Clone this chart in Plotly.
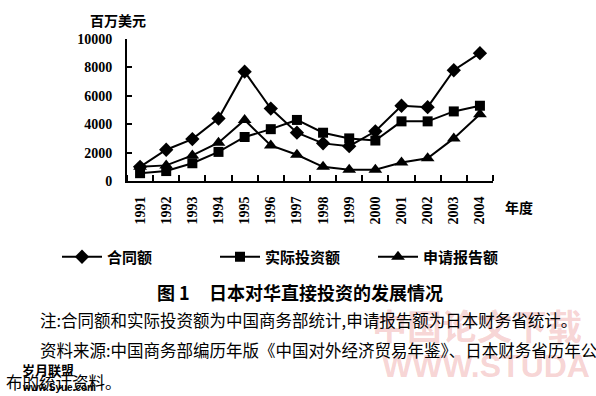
import plotly.graph_objects as go

years = [1991, 1992, 1993, 1994, 1995, 1996, 1997, 1998, 1999, 2000, 2001, 2002, 2003, 2004]
contract = [1000, 2200, 2950, 4400, 7700, 5100, 3400, 2650, 2450, 3500, 5300, 5200, 7800, 9000]
actual = [550, 700, 1250, 2050, 3100, 3650, 4300, 3400, 3000, 2850, 4200, 4200, 4900, 5300]
reported = [1000, 1100, 1800, 2700, 4300, 2500, 1850, 1000, 800, 800, 1300, 1600, 3000, 4700]
series_names = ["合同额", "实际投资额", "申请报告额"]
y_ticks = [0, 2000, 4000, 6000, 8000, 10000]
y_tick_labels = ["0", "2000", "4000", "6000", "8000", "10000"]

W, H = 596, 396
L, R, T, B = 127, 493, 39, 181

def px(x):
    return (x - L) / (R - L)

def py(y):
    return (B - y) / (B - T)

CJK = "Noto Sans CJK SC"
SERIF = "Liberation Serif"
WM = "rgba(230,110,110,0.30)"

fig = go.Figure()
for vals, name, sym, sz in [(contract, series_names[0], "diamond", 11),
                            (actual, series_names[1], "square", 10),
                            (reported, series_names[2], "triangle-up", 12)]:
    fig.add_trace(go.Scatter(x=years, y=vals, name=name, mode="lines+markers",
                             line=dict(color="black", width=2),
                             marker=dict(symbol=sym, size=sz, color="black")))

annotations = [
    # watermarks
    dict(text="中国论文下载", x=px(370), y=py(324), xanchor="left", yanchor="middle",
         font=dict(family=CJK, size=35, color=WM, weight="bold")),
    dict(text="WWW.STUDA", x=px(380), y=py(366), xanchor="left", yanchor="middle",
         font=dict(family="Liberation Sans", size=32, color=WM, weight="bold")),
    # axis titles
    dict(text="百万美元", x=px(88), y=py(20), xanchor="left", yanchor="middle",
         font=dict(family=CJK, size=14, color="black", weight="bold")),
    dict(text="年度", x=px(503), y=py(207), xanchor="left", yanchor="middle",
         font=dict(family=CJK, size=14, color="black", weight="bold")),
    # caption
    dict(text="图 1", x=px(155), y=py(292), xanchor="left", yanchor="middle",
         font=dict(family=CJK, size=18, color="black", weight="bold")),
    dict(text="日本对华直接投资的发展情况", x=px(207), y=py(292), xanchor="left", yanchor="middle",
         font=dict(family=CJK, size=18, color="black", weight="bold")),
    dict(text="注:合同额和实际投资额为中国商务部统计,申请报告额为日本财务省统计。", x=px(38), y=py(320),
         xanchor="left", yanchor="middle", font=dict(family=CJK, size=16.5, color="black")),
    dict(text="资料来源:中国商务部编历年版《中国对外经济贸易年鉴》、日本财务省历年公", x=px(38), y=py(350),
         xanchor="left", yanchor="middle", font=dict(family=CJK, size=16.5, color="black")),
    dict(text="布的统计资料。", x=px(4), y=py(382),
         xanchor="left", yanchor="middle", font=dict(family=CJK, size=16.5, color="black")),
    dict(text="岁月联盟", x=px(20), y=py(369), xanchor="left", yanchor="middle",
         font=dict(family=CJK, size=13, color="black", weight="bold")),
    dict(text="www.Syue.com", x=px(20), y=py(387), xanchor="left", yanchor="middle",
         font=dict(family="Liberation Sans", size=10, color="black", weight="bold")),
]
for a in annotations:
    a.update(xref="paper", yref="paper", showarrow=False)

fig.update_layout(
    width=W, height=H,
    margin=dict(l=L, r=W - R, t=T, b=H - B, pad=0, autoexpand=False),
    plot_bgcolor="white", paper_bgcolor="white",
    showlegend=True,
    legend=dict(orientation="h", xref="paper", yref="paper",
                x=px(57), y=py(257), xanchor="left", yanchor="middle",
                entrywidth=103, entrywidthmode="pixels", itemwidth=40,
                font=dict(family=CJK, size=15, color="black", weight="bold"),
                bgcolor="rgba(0,0,0,0)"),
    annotations=annotations,
)
fig.update_xaxes(range=[1990.5, 2004.5], tickvals=years, ticktext=[str(y) for y in years],
                 tickangle=-90, ticks="", showgrid=False, zeroline=False,
                 showline=True, linecolor="black", linewidth=2,
                 ticklabelstandoff=8, automargin=False,
                 tickfont=dict(family=SERIF, size=14, color="black", weight="bold"),
                 minor=dict(ticks="inside", tick0=1990.5, dtick=1, ticklen=6,
                            tickcolor="black", tickwidth=1.5, showgrid=False))
fig.update_yaxes(range=[0, 10000], tickvals=y_ticks, ticktext=y_tick_labels,
                 ticks="inside", ticklen=5, automargin=False,
                 tickcolor="black", tickwidth=1.5, showgrid=False, zeroline=False,
                 showline=True, linecolor="black", linewidth=2,
                 ticklabelstandoff=10,
                 tickfont=dict(family=SERIF, size=14, color="black", weight="bold"))

fig.write_html("out.html", config={"displayModeBar": False},
               post_script="document.body.style.margin='0';")
